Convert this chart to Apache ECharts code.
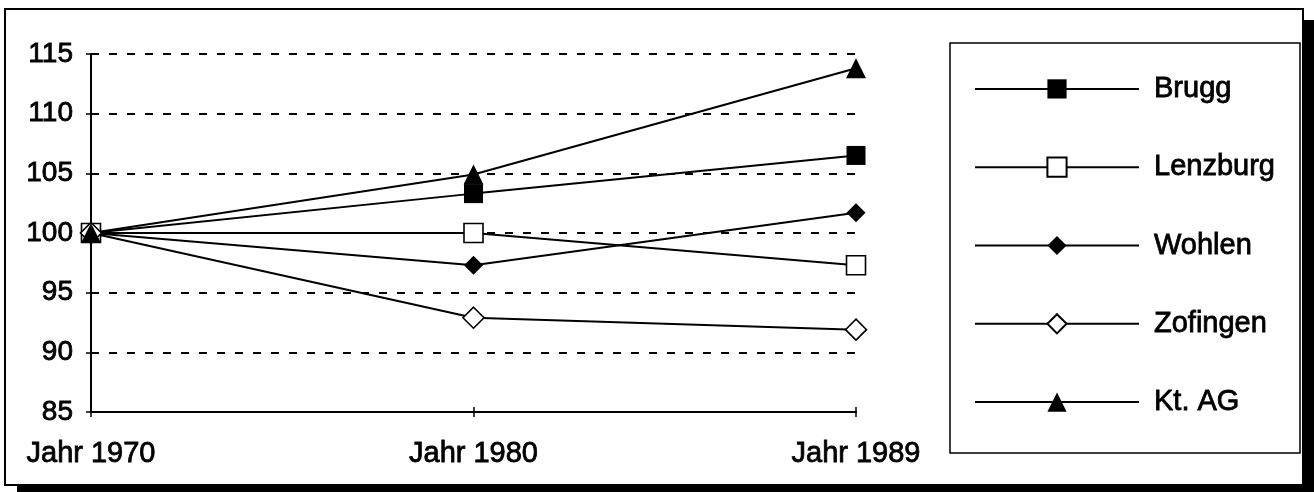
<!DOCTYPE html>
<html>
<head>
<meta charset="utf-8">
<script src="https://cdn.jsdelivr.net/npm/echarts@6/dist/echarts.min.js"></script>
<style>
html,body{margin:0;padding:0;background:#fff;}
#chart{width:1314px;height:492px;}
</style>
</head>
<body>
<div id="chart"></div>
<script>
const categories = ['Jahr 1970', 'Jahr 1980', 'Jahr 1989'];
const seriesNames = ['Brugg', 'Lenzburg', 'Wohlen', 'Zofingen', 'Kt. AG'];
const brugg = [100, 103.3, 106.5];
const lenzburg = [100, 100, 97.3];
const wohlen = [100, 97.3, 101.7];
const zofingen = [100, 92.9, 91.9];
const ktAG = [100, 104.9, 113.8];
const yTicks = [85, 90, 95, 100, 105, 110, 115];

const FONT = '"Liberation Sans", Arial, sans-serif';
const values = [brugg, lenzburg, wohlen, zofingen, ktAG];
const symbols = ['rect', 'rect', 'diamond', 'diamond', 'triangle'];
const filled = [true, false, true, false, true];
const sizes = [19, 19, 19, 21, 20];
const TB = {textBorderColor: '#000', textBorderWidth: 0.8};

const chart = echarts.init(document.getElementById('chart'), null, {renderer: 'canvas'});

const series = seriesNames.map((name, i) => ({
  name: name,
  type: 'line',
  data: values[i],
  symbol: symbols[i],
  symbolSize: sizes[i],
  showAllSymbol: true,
  lineStyle: {color: '#000', width: 2},
  itemStyle: {
    color: filled[i] ? '#000' : '#fff',
    borderColor: '#000',
    borderWidth: filled[i] ? 0 : 1.6,
    opacity: 1
  },
  emphasis: {disabled: true},
  animation: false
}));

const option = {
  animation: false,
  backgroundColor: 'transparent',
  graphic: [
    {type: 'rect', shape: {x: 17, y: 20, width: 1297, height: 472}, style: {fill: '#000'}, z: -10, silent: true},
    {type: 'rect', shape: {x: 5, y: 9, width: 1298, height: 476}, style: {fill: '#fff', stroke: '#000', lineWidth: 2}, z: -9, silent: true},
    {type: 'rect', shape: {x: 950, y: 43, width: 350, height: 410}, style: {fill: 'none', stroke: '#000', lineWidth: 1.5}, z: 5, silent: true}
  ],
  grid: {left: 91, right: 458, top: 54, bottom: 80, containLabel: false},
  legend: {
    orient: 'vertical',
    left: 974,
    top: 74,
    itemWidth: 164,
    itemHeight: 24,
    itemGap: 48.5,
    padding: 0,
    selectedMode: false,
    data: seriesNames,
    textStyle: Object.assign({fontFamily: FONT, fontSize: 29, color: '#000', lineHeight: 24, padding: [0, 0, 0, 10]}, TB)
  },
  xAxis: [
    {
      type: 'category',
      data: categories,
      boundaryGap: false,
      axisLine: {lineStyle: {color: '#000', width: 2}},
      axisTick: {show: true, length: 5, lineStyle: {color: '#000', width: 1.5}},
      axisLabel: Object.assign({fontFamily: FONT, fontSize: 29, color: '#000', margin: 27}, TB),
      splitLine: {show: false}
    },
    {
      type: 'category',
      data: categories,
      boundaryGap: false,
      position: 'bottom',
      axisLine: {show: false},
      axisTick: {show: true, inside: true, length: 5, lineStyle: {color: '#000', width: 1.5}},
      axisLabel: {show: false},
      splitLine: {show: false}
    }
  ],
  yAxis: [
    {
      type: 'value',
      min: 85,
      max: 115,
      interval: 5,
      axisLine: {show: true, lineStyle: {color: '#000', width: 2}},
      axisTick: {show: true, length: 5, lineStyle: {color: '#000', width: 1.5}},
      axisLabel: Object.assign({fontFamily: FONT, fontSize: 28, color: '#000', margin: 18,
        formatter: v => yTicks.includes(v) ? String(v) : ''}, TB),
      splitLine: {show: true, lineStyle: {color: '#000', width: 2, type: [8, 10]}}
    },
    {
      type: 'value',
      min: 85,
      max: 115,
      interval: 5,
      position: 'left',
      axisLine: {show: false},
      axisTick: {show: true, inside: true, length: 5, lineStyle: {color: '#000', width: 1.5}},
      axisLabel: {show: false},
      splitLine: {show: false}
    }
  ],
  series: series
};

chart.setOption(option);
</script>
</body>
</html>
